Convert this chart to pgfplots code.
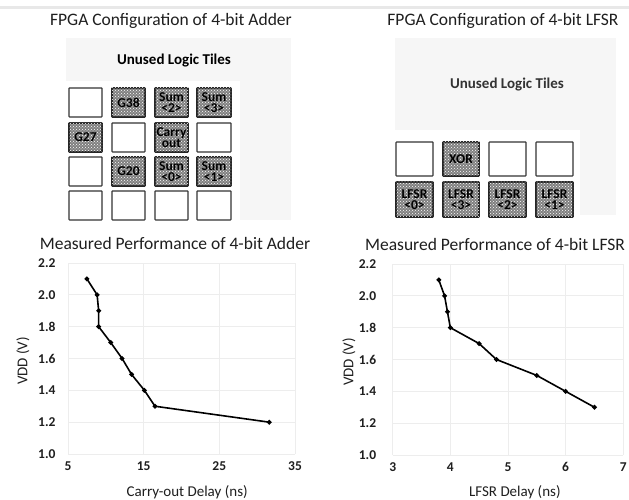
\documentclass[border=0pt]{standalone}
\usepackage{pgfplots}
\pgfplotsset{compat=1.18}
\usepackage{fontspec}
\setmainfont{Carlito}
\usetikzlibrary{patterns}
\definecolor{panelgray}{gray}{0.965}
\definecolor{gridgray}{gray}{0.93}
\definecolor{ink}{gray}{0.12}
\newcommand{\pt}[2]{(#1pt,{500pt-#2pt})}
\newcommand{\tile}[4]{\draw[line width=1.2pt,draw=black!80,fill=white,rounded corners=0.6pt] \pt{#1}{#2} rectangle \pt{#3}{#4};}
\newcommand{\used}[5]{%
\draw[line width=1.6pt,draw=black!85,fill=black!50,rounded corners=0.6pt] \pt{#1}{#2} rectangle \pt{#3}{#4};
\fill[pattern=crosshatch dots,pattern color=white] \pt{#1}{#2} rectangle \pt{#3}{#4};
\node[font=\fontsize{13.5}{11.5}\selectfont\bfseries,text=black,align=center,inner sep=0pt] at ({(#1pt+#3pt)/2},{500pt-(#2pt+#4pt)/2}) {#5};}
\pgfplotsset{perf/.style={
  scale only axis, width=227pt, height=191pt,
  ymin=1.0, ymax=2.2, ytick={1.0,1.2,1.4,1.6,1.8,2.0,2.2},
  /pgf/number format/assume math mode=true,
  /pgf/number format/fixed, /pgf/number format/fixed zerofill, 
  yticklabel style={/pgf/number format/precision=1,font=\fontsize{13.5}{15}\selectfont\bfseries,text=ink,xshift=-9pt},
  xticklabel style={font=\fontsize{13.5}{15}\selectfont\bfseries,text=ink,yshift=-4pt,/pgf/number format/precision=0},
  xlabel style={font=\fontsize{15}{17}\selectfont,text=ink,anchor=center},
  ylabel style={font=\fontsize{15}{17}\selectfont,text=ink,anchor=center},
  axis line style={draw=none}, tick style={draw=none},
  grid=major, grid style={gridgray,line width=0.8pt},
  clip=false
}}
\begin{document}
\begin{tikzpicture}[x=1pt,y=1pt]
\useasboundingbox (0,0) rectangle (629pt,500pt);
\fill[white] (0,0) rectangle (629pt,500pt);
\fill[black!9] (0pt,491pt) rectangle (629pt,493.5pt);
% titles
\node[font=\fontsize{17.5}{19}\selectfont,text=ink] at (171pt,479pt) {FPGA Configuration of 4-bit Adder};
\node[font=\fontsize{17.5}{19}\selectfont,text=ink] at (503pt,479pt) {FPGA Configuration of 4-bit LFSR};
\node[font=\fontsize{17.5}{19}\selectfont,text=ink] at (175pt,257pt) {Measured Performance of 4-bit Adder};
\node[font=\fontsize{17.5}{19}\selectfont,text=ink] at (495pt,256pt) {Measured Performance of 4-bit LFSR};
% left panel
\fill[panelgray] \pt{66}{38} rectangle \pt{291}{220};
\fill[white] \pt{66}{81} rectangle \pt{240}{222};
\node[font=\fontsize{15}{17}\selectfont\bfseries,text=black] at (174pt,439pt) {Unused Logic Tiles};
\tile{69}{88}{102}{117}
\used{112}{88}{145}{117}{G38}
\used{155}{88}{188}{117}{Sum\\<2>}
\used{197}{88}{231}{117}{Sum\\<3>}
\used{69}{123}{102}{152}{G27}
\tile{112}{123}{145}{152}
\used{155}{123}{188}{152}{Carry\\out}
\tile{197}{123}{231}{152}
\tile{69}{157}{102}{186}
\used{112}{157}{145}{186}{G20}
\used{155}{157}{188}{186}{Sum\\<0>}
\used{197}{157}{231}{186}{Sum\\<1>}
\tile{69}{191}{102}{220}
\tile{112}{191}{145}{220}
\tile{155}{191}{188}{220}
\tile{197}{191}{231}{220}
% right panel
\fill[panelgray] \pt{395}{38} rectangle \pt{616}{215};
\fill[white] \pt{395}{130} rectangle \pt{580}{222};
\node[font=\fontsize{15}{17}\selectfont\bfseries,text=black!80] at (507pt,415pt) {Unused Logic Tiles};
\tile{396}{142}{433}{176}
\used{443}{142}{479}{176}{XOR}
\tile{489}{142}{526}{176}
\tile{536}{142}{573}{176}
\used{396}{182}{433}{217}{LFSR\\<0>}
\used{443}{182}{479}{217}{LFSR\\<3>}
\used{489}{182}{526}{217}{LFSR\\<2>}
\used{536}{182}{573}{217}{LFSR\\<1>}
% plots
\begin{axis}[perf, at={(68pt,46pt)}, anchor=south west,
  xmin=5, xmax=35, xtick={5,15,25,35},
  xlabel={Carry-out Delay (ns)}, ylabel={VDD (V)},
  xlabel style={at={(axis description cs:0.525,-0.199)}},
  ylabel style={at={(axis description cs:-0.198,0.487)}}]
\addplot[black,line width=1.6pt,mark=*,mark size=1.5pt,mark options={solid,fill=black}] coordinates {(7.5,2.1)(8.85,2.0)(9.05,1.9)(9.05,1.8)(10.65,1.7)(12.15,1.6)(13.4,1.5)(15.1,1.4)(16.5,1.3)(31.6,1.2)};
\end{axis}
\begin{axis}[perf, at={(392.7pt,45pt)}, anchor=south west, width=230.5pt,
  xmin=3, xmax=7, xtick={3,4,5,6,7},
  xlabel={LFSR Delay (ns)}, ylabel={VDD (V)},
  yticklabel style={xshift=-4pt},
  xlabel style={at={(axis description cs:0.53,-0.195)}},
  ylabel style={at={(axis description cs:-0.19,0.487)}}]
\addplot[black,line width=1.6pt,mark=*,mark size=1.5pt,mark options={solid,fill=black}] coordinates {(3.8,2.1)(3.9,2.0)(3.95,1.9)(4,1.8)(4.5,1.7)(4.8,1.6)(5.5,1.5)(6,1.4)(6.5,1.3)};
\end{axis}
\end{tikzpicture}
\end{document}
